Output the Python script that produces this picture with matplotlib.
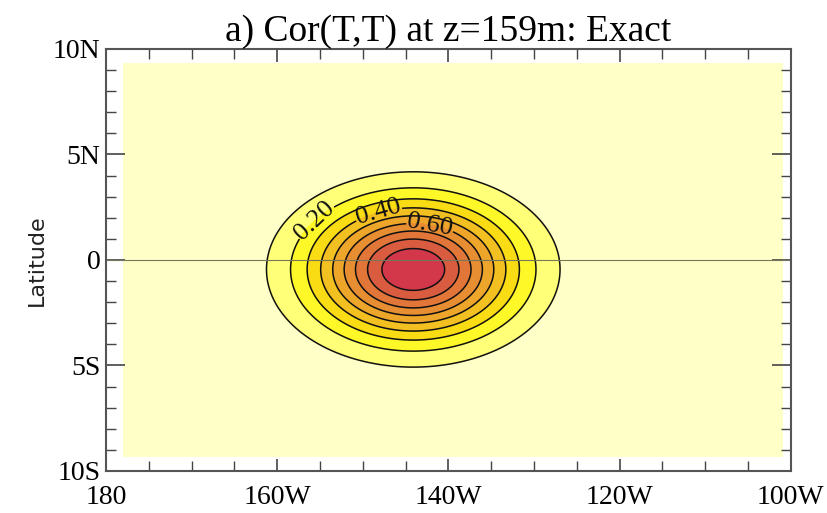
#!/usr/bin/env python3
import numpy as np
import matplotlib
matplotlib.use("Agg")
import matplotlib.pyplot as plt
from matplotlib.ticker import MultipleLocator

plt.rcParams["font.family"] = ["Liberation Serif", "DejaVu Serif"]

# correlation field parameters (lon in degrees east)
center_lon = 215.9
center_lat = -0.45
scale_lon = 11.3
scale_lat = 3.05
grid_lon = (182.0, 259.0)
grid_lat = (-9.3, 9.3)

levels = [0.0, 0.1, 0.2, 0.3, 0.4, 0.5, 0.6, 0.7, 0.8, 0.9, 1.01]
band_colors = ["#FFFFC8", "#FFFF78", "#FFF828", "#F9DC14", "#F2C020",
               "#EDA62A", "#E88E32", "#E27638", "#DA5C40", "#D2384A"]
plain_levels = [0.1, 0.3, 0.5, 0.7, 0.8, 0.9]
label_levels = [0.2, 0.4, 0.6]
label_pos = [(204.5, 1.8), (211.8, 2.3), (217.8, 1.5)]

xticks = [180, 200, 220, 240, 260]
xticklabels = ["180", "160W", "140W", "120W", "100W"]
yticks = [-10, -5, 0, 5, 10]
yticklabels = ["10S", "5S", "0", "5N", "10N"]

lon = np.linspace(grid_lon[0], grid_lon[1], 300)
lat = np.linspace(grid_lat[0], grid_lat[1], 200)
LON, LAT = np.meshgrid(lon, lat)
cor = np.exp(-((LON - center_lon) / scale_lon) ** 2 - ((LAT - center_lat) / scale_lat) ** 2)

fig = plt.figure(figsize=(8.28, 5.13), dpi=100)
ax = fig.add_axes([0.128, 0.082, 0.827, 0.8225])

ax.contourf(LON, LAT, cor, levels=levels, colors=band_colors)
ax.contour(LON, LAT, cor, levels=plain_levels, colors="#111111", linewidths=1.1)
cs = ax.contour(LON, LAT, cor, levels=label_levels, colors="#111111", linewidths=1.1)
ax.clabel(cs, manual=label_pos, fmt="%.2f", inline=True, fontsize=19, inline_spacing=2)

# equator
ax.axhline(0, color="#77775a", lw=0.8)

ax.set_xlim(180, 260)
ax.set_ylim(-10, 10)
ax.set_xticks(xticks)
ax.set_xticklabels(xticklabels, fontsize=20)
ax.set_yticks(yticks)
ax.set_yticklabels(yticklabels, fontsize=20)
ax.xaxis.set_minor_locator(MultipleLocator(5))
ax.yaxis.set_minor_locator(MultipleLocator(1))
ax.tick_params(which="both", direction="in", top=True, right=True, color="#444444")
ax.tick_params(which="major", axis="y", length=14, width=1.2)
ax.tick_params(which="major", axis="x", length=9, width=1.2, pad=10)
ax.tick_params(which="minor", length=7, width=1.0)
ax.tick_params(axis="y", pad=4)
for s in ax.spines.values():
        s.set_color("#555555")
        s.set_linewidth(1.5)

ax.set_ylabel("Latitude", family="DejaVu Sans", fontsize=16, labelpad=4, color="#222222")
ax.set_title("a) Cor(T,T) at z=159m: Exact", fontsize=27, pad=5)

plt.savefig("out.png", dpi=100)
